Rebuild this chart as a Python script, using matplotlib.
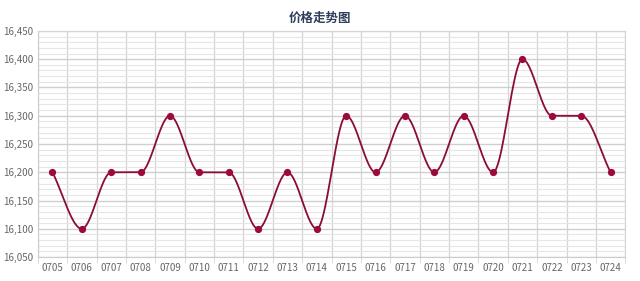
import numpy as np
import matplotlib.pyplot as plt
from matplotlib.ticker import MultipleLocator, FuncFormatter

plt.rcParams['font.family'] = ['Noto Sans CJK SC', 'DejaVu Sans']

dates = ['0705', '0706', '0707', '0708', '0709', '0710', '0711', '0712', '0713', '0714',
         '0715', '0716', '0717', '0718', '0719', '0720', '0721', '0722', '0723', '0724']
prices = [16200, 16100, 16200, 16200, 16300, 16200, 16200, 16100, 16200, 16100,
          16300, 16200, 16300, 16200, 16300, 16200, 16400, 16300, 16300, 16200]


def monotone_curve(x, y, n=40):
    # Fritsch-Carlson monotone cubic, flat between equal points
    x = np.asarray(x, float); y = np.asarray(y, float)
    h = np.diff(x); d = np.diff(y) / h
    m = np.zeros_like(y)
    m[0] = d[0]; m[-1] = d[-1]
    for i in range(1, len(y) - 1):
        if d[i - 1] * d[i] <= 0:
            m[i] = 0
        else:
            m[i] = 2 / (1 / d[i - 1] + 1 / d[i])
    xs, ys = [], []
    for i in range(len(h)):
        t = np.linspace(0, 1, n)
        h00 = 2 * t**3 - 3 * t**2 + 1
        h10 = t**3 - 2 * t**2 + t
        h01 = -2 * t**3 + 3 * t**2
        h11 = t**3 - t**2
        xs.append(x[i] + t * h[i])
        ys.append(h00 * y[i] + h10 * h[i] * m[i] + h01 * y[i + 1] + h11 * h[i] * m[i + 1])
    return np.concatenate(xs), np.concatenate(ys)


x = np.arange(len(dates))
cx, cy = monotone_curve(x, prices)

fig = plt.figure(figsize=(6.4, 2.81), dpi=100)
ax = fig.add_axes([0.059, 0.085, 0.918, 0.805])

ax.plot(cx, cy, color='#8a0c3c', lw=1.3, zorder=3)
ax.plot(x, prices, 'o', color='#9c0a3a', ms=4.2, zorder=4)

ax.set_xlim(-0.5, len(dates) - 0.5)
ax.set_ylim(16050, 16450)
ax.set_xticks(x)
ax.set_xticklabels(dates)
ax.set_xticks(np.arange(-0.5, len(dates), 1), minor=True)
ax.yaxis.set_major_locator(MultipleLocator(50))
ax.yaxis.set_minor_locator(MultipleLocator(10))
ax.yaxis.set_major_formatter(FuncFormatter(lambda v, p: f'{int(v):,}'))

ax.grid(axis='y', which='major', color='#cfcfcf', lw=1.0)
ax.grid(axis='y', which='minor', color='#e6e6e6', lw=0.8)
ax.grid(axis='x', which='minor', color='#d4d4d4', lw=0.9)
ax.set_axisbelow(True)

ax.tick_params(axis='x', which='major', length=0, labelsize=7, colors='#666666', pad=4)
ax.tick_params(axis='x', which='minor', length=4, color='#d4d4d4')
ax.tick_params(axis='y', which='both', length=0, labelsize=7, colors='#666666', pad=3)

for side in ['top', 'right']:
    ax.spines[side].set_color('#d4d4d4')
for side in ['left', 'bottom']:
    ax.spines[side].set_color('#cccccc')

fig.text(0.5, 0.935, '价格走势图', ha='center', va='center', fontsize=9,
         fontweight='bold', color='#2e3e5c')

fig.savefig('out.png', dpi=100)
